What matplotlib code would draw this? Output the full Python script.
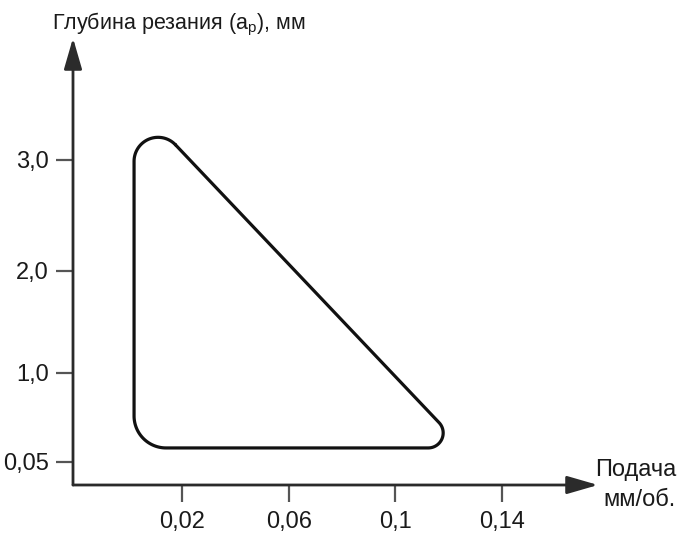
import numpy as np
import matplotlib
matplotlib.use("Agg")
import matplotlib.pyplot as plt

plt.rcParams['font.family'] = ['Liberation Sans Narrow', 'Liberation Sans', 'DejaVu Sans']
plt.rcParams['mathtext.default'] = 'regular'

# ---- data ----
x_ticks = [0.02, 0.06, 0.1, 0.14]
x_tick_labels = ['0,02', '0,06', '0,1', '0,14']
y_ticks = [0.05, 1.0, 2.0, 3.0]
y_tick_labels = ['0,05', '1,0', '2,0', '3,0']
# region (rounded triangle) corner values: feed, depth
region_feed = [0.002, 0.002, 0.1254]
region_depth = [3.53, 0.20, 0.20]
region_radius_px = [24, 32, 15]  # corner rounding (style)

x_label = 'Подача\nмм/об.'
y_label = 'Глубина резания (a$_{p}$), мм'

# hand-drawn, non-uniform depth axis: knots of a piecewise-linear scale
scale_vals = np.array([-1.0, 0.05, 1.0, 2.0, 3.0, 6.0])
scale_u = np.array([-98.4, 0.0, 89.0, 191.0, 302.0, 635.0])


def fwd(y):
    return np.interp(y, scale_vals, scale_u)


def inv(u):
    return np.interp(u, scale_u, scale_vals)


fig = plt.figure(figsize=(6.8, 5.33), dpi=100)
ax = fig.add_axes([73 / 680, 48 / 533, 525 / 680, 447 / 533])
ax.set_yscale('function', functions=(fwd, inv))
ax.set_xlim(-0.0209, 0.176)
ax.set_ylim(-0.1955, 4.099)

for s in ax.spines.values():
    s.set_visible(False)

axis_col = '#2b2b2b'
ax.annotate('', xy=(1, 0), xytext=(0, 0), xycoords='axes fraction',
            arrowprops=dict(arrowstyle='-|>,head_length=1.9,head_width=0.55',
                            lw=2.0, color=axis_col, shrinkA=0, shrinkB=0,
                            mutation_scale=10))
ax.annotate('', xy=(0, 1), xytext=(0, 0), xycoords='axes fraction',
            arrowprops=dict(arrowstyle='-|>,head_length=1.9,head_width=0.55',
                            lw=2.0, color=axis_col, shrinkA=0, shrinkB=0,
                            mutation_scale=10))

ax.set_xticks(x_ticks)
ax.set_xticklabels(x_tick_labels)
ax.set_yticks(y_ticks)
ax.set_yticklabels(y_tick_labels)
ax.minorticks_off()
ax.tick_params(axis='both', direction='out', length=12.5, width=1.6,
               color='#555555', labelsize=17, labelcolor='#1a1a1a')
ax.tick_params(axis='y', pad=5)
ax.tick_params(axis='x', pad=6)

# ---- rounded triangle built in display space, plotted in data space ----
verts = ax.transData.transform(np.column_stack([region_feed, region_depth]))
pts = []
n = len(verts)
for i in range(n):
    V = verts[i]
    A = verts[i - 1]
    B = verts[(i + 1) % n]
    d1 = (A - V) / np.linalg.norm(A - V)
    d2 = (B - V) / np.linalg.norm(B - V)
    ang = np.arccos(np.clip(np.dot(d1, d2), -1, 1))
    th = ang / 2
    r = region_radius_px[i]
    bis = (d1 + d2) / np.linalg.norm(d1 + d2)
    C = V + bis * r / np.sin(th)
    T1 = V + d1 * r / np.tan(th)
    T2 = V + d2 * r / np.tan(th)
    a1 = np.arctan2(*(T1 - C)[::-1])
    a2 = np.arctan2(*(T2 - C)[::-1])
    da = (a2 - a1 + np.pi) % (2 * np.pi) - np.pi
    for t in np.linspace(0, 1, 40):
        a = a1 + da * t
        pts.append(C + r * np.array([np.cos(a), np.sin(a)]))
pts.append(pts[0])
pts = ax.transData.inverted().transform(np.array(pts))
ax.plot(pts[:, 0], pts[:, 1], color='#111111', lw=2.3, solid_capstyle='round')

fig.text(52 / 680, 1 - 24 / 533, y_label, fontsize=15.5, ha='left', va='center',
         color='#1a1a1a')
fig.text(676 / 680, 1 - 485 / 533, x_label, fontsize=17, ha='right', va='center',
         color='#1a1a1a', linespacing=1.45)

fig.savefig('out.png', dpi=100)
